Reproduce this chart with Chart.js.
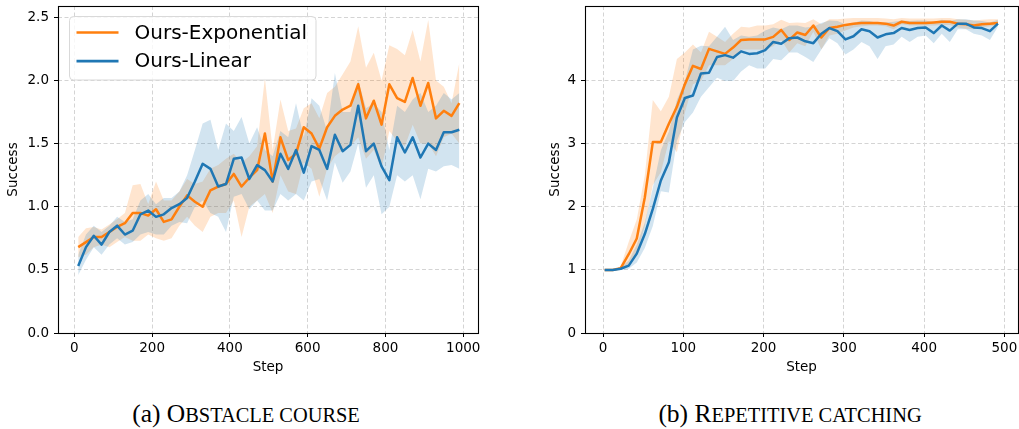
<!DOCTYPE html>
<html>
<head>
<meta charset="utf-8">
<script src="https://cdn.jsdelivr.net/npm/chart.js@4.4.1/dist/chart.umd.min.js"></script>
<style>
  body { margin: 0; background: #fff; width: 1019px; height: 429px; position: relative; overflow: hidden; }
  canvas { position: absolute; top: 0; }
  #chartA { left: 0; }
  #chartB { left: 530px; }
  .cap { position: absolute; top: 399px; font-family: "Liberation Serif", serif; font-size: 25.5px;
         white-space: nowrap; transform: translateX(-50%); color: #000; }
  .cap small { font-size: 0.8em; }
</style>
</head>
<body>
<canvas id="chartA" width="505" height="376"></canvas>
<canvas id="chartB" width="489" height="376"></canvas>
<div class="cap" style="left:246px">(a) O<small>BSTACLE COURSE</small></div>
<div class="cap" style="left:790px">(b) R<small>EPETITIVE CATCHING</small></div>

<script>
// series names
const seriesNames = ['Ours-Exponential', 'Ours-Linear'];

// (a) obstacle course
const stepsA = [10, 30, 50, 70, 90, 110, 130, 150, 170, 190,
  210, 230, 250, 270, 290, 310, 330, 350, 370, 390,
  410, 430, 450, 470, 490, 510, 530, 550, 570, 590,
  610, 630, 650, 670, 690, 710, 730, 750, 770, 790,
  810, 830, 850, 870, 890, 910, 930, 950, 970, 990];
const expMeanA = [0.68, 0.72, 0.76, 0.76, 0.80, 0.84, 0.87, 0.95, 0.95, 0.93,
  0.98, 0.88, 0.90, 1.00, 1.09, 1.04, 1.00, 1.13, 1.16, 1.18,
  1.26, 1.16, 1.23, 1.29, 1.58, 1.20, 1.55, 1.37, 1.42, 1.63,
  1.58, 1.46, 1.63, 1.72, 1.77, 1.80, 1.97, 1.70, 1.84, 1.65,
  1.97, 1.86, 1.83, 2.02, 1.80, 1.98, 1.70, 1.76, 1.72, 1.82];
const expHiA = [0.76, 0.83, 0.84, 0.82, 0.86, 0.90, 0.95, 1.17, 1.18, 1.02,
  1.20, 1.05, 1.05, 1.12, 1.22, 1.18, 1.20, 1.30, 1.33, 1.38,
  1.42, 1.35, 1.40, 1.48, 2.02, 1.45, 1.85, 1.60, 1.62, 1.78,
  1.82, 1.70, 1.90, 1.95, 2.05, 2.15, 2.43, 2.10, 2.22, 2.00,
  2.28, 2.25, 2.20, 2.40, 2.15, 2.48, 2.00, 1.95, 1.82, 2.14];
const expLoA = [0.60, 0.62, 0.68, 0.70, 0.68, 0.72, 0.76, 0.73, 0.73, 0.78,
  0.75, 0.73, 0.75, 0.85, 0.92, 0.85, 0.80, 0.92, 0.95, 0.95,
  1.05, 0.76, 1.00, 1.05, 1.10, 0.95, 1.25, 1.12, 1.10, 1.35,
  1.30, 1.08, 1.30, 1.40, 1.45, 1.48, 1.55, 1.38, 1.45, 1.30,
  1.60, 1.52, 1.48, 1.65, 1.50, 1.50, 1.40, 1.55, 1.58, 1.50];
const linMeanA = [0.53, 0.68, 0.77, 0.70, 0.80, 0.85, 0.78, 0.81, 0.94, 0.97,
  0.92, 0.94, 0.99, 1.02, 1.07, 1.20, 1.34, 1.30, 1.16, 1.18,
  1.38, 1.39, 1.22, 1.33, 1.29, 1.20, 1.42, 1.30, 1.45, 1.27,
  1.48, 1.45, 1.30, 1.57, 1.44, 1.49, 1.80, 1.44, 1.50, 1.32,
  1.21, 1.55, 1.43, 1.55, 1.39, 1.50, 1.45, 1.59, 1.59, 1.61];
const linHiA = [0.62, 0.78, 0.85, 0.80, 0.85, 0.92, 0.88, 0.90, 1.05, 1.10,
  1.02, 1.07, 1.07, 1.12, 1.25, 1.45, 1.66, 1.69, 1.45, 1.66,
  1.60, 1.71, 1.50, 1.63, 1.45, 1.40, 1.60, 1.55, 1.82, 1.55,
  1.86, 1.80, 1.60, 2.06, 1.75, 1.75, 2.00, 1.78, 1.82, 1.75,
  1.45, 1.80, 1.75, 1.85, 1.90, 1.75, 1.80, 1.90, 1.85, 1.90];
const linLoA = [0.46, 0.58, 0.68, 0.62, 0.70, 0.75, 0.70, 0.72, 0.78, 0.80,
  0.78, 0.78, 0.85, 0.88, 0.87, 1.00, 1.05, 0.95, 0.92, 0.80,
  1.08, 1.10, 0.98, 1.05, 0.97, 0.97, 1.10, 1.05, 1.10, 1.05,
  1.20, 1.22, 1.05, 1.35, 1.19, 1.28, 1.50, 1.15, 1.25, 0.94,
  1.00, 1.25, 1.20, 1.25, 1.06, 1.30, 1.28, 1.32, 1.33, 1.30];
const xTicksA = [0, 200, 400, 600, 800, 1000];
const yTicksA = [0, 0.5, 1.0, 1.5, 2.0, 2.5];

// (b) repetitive catching
const stepsB = [2, 12, 22, 32, 42, 52, 62, 72, 82, 92,
  102, 112, 122, 132, 142, 152, 162, 172, 182, 192,
  202, 212, 222, 232, 242, 252, 262, 272, 282, 292,
  302, 312, 322, 332, 342, 352, 362, 372, 382, 392,
  402, 412, 422, 432, 442, 452, 462, 472, 482, 492];
const expMeanB = [1.00, 1.00, 1.03, 1.25, 1.50, 2.15, 3.03, 3.03, 3.32, 3.59,
  3.95, 4.24, 4.19, 4.51, 4.47, 4.43, 4.53, 4.65, 4.66, 4.66,
  4.66, 4.70, 4.81, 4.65, 4.77, 4.73, 4.88, 4.69, 4.84, 4.86,
  4.89, 4.91, 4.92, 4.92, 4.92, 4.91, 4.88, 4.94, 4.92, 4.92,
  4.92, 4.93, 4.94, 4.94, 4.91, 4.90, 4.88, 4.90, 4.91, 4.92];
const expHiB = [1.00, 1.00, 1.06, 1.45, 1.80, 2.50, 3.70, 3.52, 3.75, 4.35,
  4.45, 4.58, 4.45, 4.78, 4.70, 4.62, 4.75, 4.86, 4.85, 4.88,
  4.88, 4.90, 4.97, 4.92, 4.93, 4.92, 4.98, 4.90, 4.98, 4.98,
  4.99, 5.00, 5.00, 5.00, 5.00, 4.99, 4.98, 5.00, 4.99, 4.99,
  4.99, 4.99, 5.00, 5.00, 4.98, 4.97, 4.96, 4.97, 4.98, 4.98];
const expLoB = [1.00, 1.00, 1.00, 1.10, 1.25, 1.70, 2.35, 2.55, 3.05, 2.87,
  3.50, 3.95, 4.00, 4.25, 4.25, 4.25, 4.35, 4.50, 4.50, 4.50,
  4.50, 4.55, 4.65, 4.45, 4.60, 4.55, 4.78, 4.50, 4.72, 4.75,
  4.80, 4.85, 4.87, 4.88, 4.88, 4.87, 4.82, 4.90, 4.88, 4.88,
  4.88, 4.88, 4.89, 4.89, 4.85, 4.83, 4.82, 4.85, 4.87, 4.88];
const linMeanB = [1.00, 1.00, 1.02, 1.07, 1.26, 1.57, 1.97, 2.42, 2.71, 3.42,
  3.73, 3.77, 4.12, 4.13, 4.38, 4.41, 4.37, 4.47, 4.43, 4.44,
  4.49, 4.62, 4.59, 4.68, 4.69, 4.63, 4.60, 4.75, 4.84, 4.79,
  4.66, 4.71, 4.82, 4.79, 4.69, 4.74, 4.76, 4.84, 4.81, 4.84,
  4.85, 4.76, 4.88, 4.80, 4.91, 4.91, 4.85, 4.84, 4.79, 4.91];
const linHiB = [1.00, 1.00, 1.04, 1.15, 1.40, 1.75, 2.30, 2.90, 3.20, 3.70,
  4.00, 4.50, 4.56, 4.55, 4.70, 4.86, 4.65, 4.72, 4.70, 4.72,
  4.80, 4.85, 4.82, 4.88, 4.88, 4.85, 4.86, 4.92, 4.96, 4.95,
  4.90, 4.92, 4.96, 4.95, 4.92, 4.93, 4.94, 4.96, 4.95, 4.96,
  4.96, 4.93, 4.97, 4.95, 4.98, 4.98, 4.96, 4.95, 4.93, 4.97];
const linLoB = [1.00, 1.00, 1.00, 1.02, 1.12, 1.35, 1.70, 2.25, 2.23, 3.05,
  3.35, 3.50, 3.75, 3.90, 4.05, 4.00, 4.00, 4.15, 4.25, 4.20,
  4.20, 4.35, 4.33, 4.45, 4.45, 4.38, 4.30, 4.50, 4.68, 4.60,
  4.42, 4.50, 4.62, 4.55, 4.35, 4.55, 4.58, 4.70, 4.62, 4.70,
  4.72, 4.60, 4.75, 4.62, 4.82, 4.82, 4.75, 4.72, 4.65, 4.86];
const xTicksB = [0, 100, 200, 300, 400, 500];
const yTicksB = [0, 1, 2, 3, 4];

const ORANGE = '#ff7f0e';
const BLUE = '#1f77b4';
const ORANGE_BAND = 'rgba(255,127,14,0.2)';
const BLUE_BAND = 'rgba(31,119,180,0.2)';
const NONE = 'rgba(0,0,0,0)';

Chart.defaults.font.family = 'DejaVu Sans';
Chart.defaults.font.size = 13.5;
Chart.defaults.color = '#000';

function pts(xs, ys) {
  return xs.map((x, i) => ({ x: x, y: ys[i] }));
}

function makeDatasets(xs, em, eh, el, lm, lh, ll) {
  const line = { fill: false, borderWidth: 2.5, borderJoinStyle: 'round', borderCapStyle: 'butt' };
  const bound = { borderWidth: 0, borderColor: NONE };
  return [
    Object.assign({ label: seriesNames[0], data: pts(xs, em), borderColor: ORANGE, order: 1 }, line),
    Object.assign({ label: seriesNames[1], data: pts(xs, lm), borderColor: BLUE, order: 0 }, line),
    Object.assign({ data: pts(xs, eh), fill: false, order: 11 }, bound),
    Object.assign({ data: pts(xs, el), fill: 2, backgroundColor: ORANGE_BAND, order: 10 }, bound),
    Object.assign({ data: pts(xs, lh), fill: false, order: 9 }, bound),
    Object.assign({ data: pts(xs, ll), fill: 4, backgroundColor: BLUE_BAND, order: 8 }, bound)
  ];
}

// drop the extra room Chart.js keeps for edge labels
function noPad(s) {
  s.paddingTop = 0; s.paddingBottom = 0; s.paddingLeft = 0; s.paddingRight = 0;
}

function makeScales(xMin, xMax, xTicks, yMax, yTicks, yWidth, yFmt, titlePad) {
  const grid = { color: '#d4d4d4', lineWidth: 1, tickColor: '#000', tickLength: 4, tickWidth: 1, tickBorderDash: [] };
  const border = { display: false, dash: [4, 2.5] };
  return {
    x: {
      type: 'linear', min: xMin, max: xMax, grid: grid, border: border,
      afterBuildTicks: s => { s.ticks = xTicks.map(v => ({ value: v })); },
      afterFit: s => { s.height = 43; noPad(s); },
      ticks: { padding: 3, maxRotation: 0, autoSkip: false, callback: v => String(v) },
      title: { display: true, text: 'Step', padding: 0 }
    },
    y: {
      type: 'linear', min: 0, max: yMax, grid: grid, border: border,
      afterBuildTicks: s => { s.ticks = yTicks.map(v => ({ value: v })); },
      afterFit: s => { s.width = yWidth; noPad(s); },
      ticks: { padding: 5, autoSkip: false, callback: yFmt },
      title: { display: true, text: 'Success', padding: { top: titlePad, bottom: 0 } }
    }
  };
}

// black box round the plot area
const frame = {
  id: 'frame',
  afterDraw(chart) {
    const a = chart.chartArea, ctx = chart.ctx;
    ctx.save();
    ctx.strokeStyle = '#000';
    ctx.lineWidth = 1.1;
    ctx.strokeRect(Math.round(a.left) + 0.5, Math.round(a.top) + 0.5,
      Math.round(a.right - a.left), Math.round(a.bottom - a.top));
    ctx.restore();
  }
};

// matplotlib style legend, upper left
const legendBox = {
  id: 'legendBox',
  afterDraw(chart) {
    const a = chart.chartArea, ctx = chart.ctx;
    const x0 = a.left + 11.5, y0 = a.top + 10.5;
    ctx.save();
    ctx.beginPath();
    ctx.roundRect(x0, y0, 246.5, 63.5, 4);
    ctx.fillStyle = 'rgba(255,255,255,0.8)';
    ctx.fill();
    ctx.strokeStyle = '#d9d9d9';
    ctx.lineWidth = 1;
    ctx.stroke();
    const colors = [ORANGE, BLUE];
    ctx.font = '20px "DejaVu Sans"';
    ctx.textBaseline = 'middle';
    ctx.fillStyle = '#000';
    seriesNames.forEach((name, i) => {
      const y = y0 + 16 + i * 28.7;
      ctx.beginPath();
      ctx.moveTo(x0 + 7, y);
      ctx.lineTo(x0 + 49, y);
      ctx.strokeStyle = colors[i];
      ctx.lineWidth = 2.7;
      ctx.stroke();
      ctx.fillText(name, x0 + 65, y + 1);
    });
    ctx.restore();
  }
};

function makeChart(id, padRight, datasets, scales, extra) {
  return new Chart(document.getElementById(id), {
    type: 'line',
    data: { datasets: datasets },
    options: {
      responsive: false,
      animation: false,
      devicePixelRatio: 1,
      layout: { padding: { left: 0, right: padRight, top: 6, bottom: 0 } },
      elements: { point: { radius: 0 }, line: { tension: 0 } },
      plugins: {
        legend: { display: false },
        tooltip: { enabled: false },
        filler: { drawTime: 'beforeDatasetsDraw', propagate: false }
      },
      scales: scales
    },
    plugins: [frame].concat(extra)
  });
}

makeChart('chartA', 27,
  makeDatasets(stepsA, expMeanA, expHiA, expLoA, linMeanA, linHiA, linLoA),
  makeScales(-42, 1038, xTicksA, 2.59, yTicksA, 58, v => v.toFixed(1), 5),
  [legendBox]);

makeChart('chartB', 1,
  makeDatasets(stepsB, expMeanB, expHiB, expLoB, linMeanB, linHiB, linLoB),
  makeScales(-22.5, 517, xTicksB, 5.19, yTicksB, 55, v => String(v), 17),
  []);
</script>
</body>
</html>
